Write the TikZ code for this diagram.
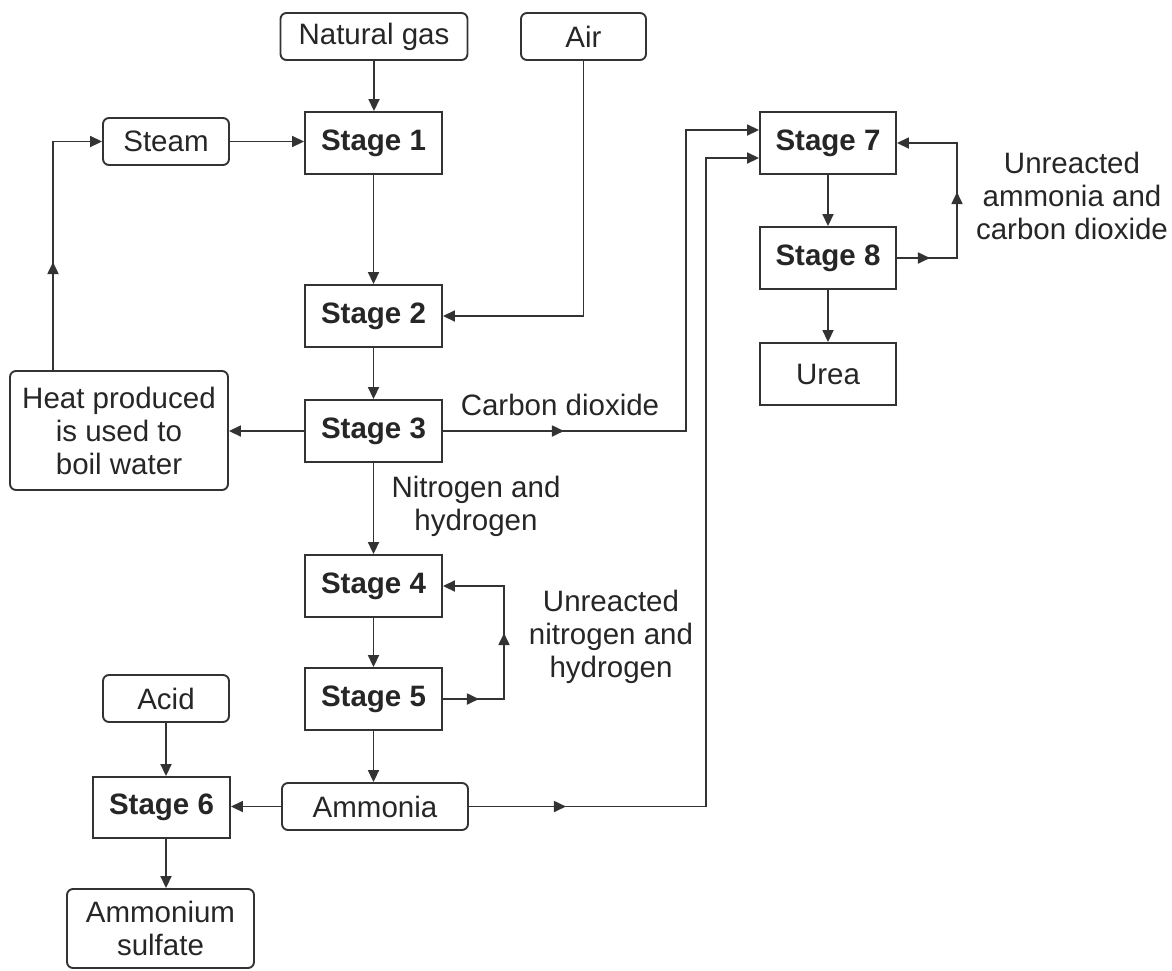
\documentclass[tikz,border=0pt]{standalone}
\usepackage{fontspec}
\setmainfont{Liberation Sans}
\usetikzlibrary{arrows.meta,decorations.markings,calc}
\begin{document}
\begin{tikzpicture}[x=1pt,y=-1pt,
  every node/.style={font=\fontsize{29.5}{33}\selectfont, text=black!85},
  base/.style={draw=black!80, line width=1.9pt, align=center, inner sep=0pt},
  stagebox/.style={base, minimum width=137pt, minimum height=62pt, font=\fontsize{29.5}{33}\selectfont\bfseries},
  roundbox/.style={base, rounded corners=6pt},
  flow/.style={draw=black!80, line width=1.8pt, -{Triangle[length=12pt,width=11pt]}},
  midarrow/.style={postaction={decorate, decoration={markings, mark=at position #1 with {\arrow{Triangle[length=12pt,width=11pt]}}}}},
  lab/.style={align=center, inner sep=0pt}
]
\useasboundingbox (0,0) rectangle (1172,970);

% boxes
\node[roundbox, minimum width=187pt, minimum height=47pt] (ng) at (374,36.5) {Natural gas};
\node[roundbox, minimum width=125pt, minimum height=47pt] (air) at (583.5,36.5) {Air};
\node[roundbox, minimum width=126pt, minimum height=47pt] (steam) at (166,141.5) {Steam};
\node[stagebox] (s1) at (373.5,143) {Stage 1};
\node[stagebox] (s2) at (373.5,316) {Stage 2};
\node[stagebox] (s3) at (373.5,431) {Stage 3};
\node[roundbox, minimum width=218pt, minimum height=119pt] (heat) at (119,430.5) {Heat produced\\is used to\\boil water};
\node[stagebox] (s4) at (373.5,586) {Stage 4};
\node[stagebox] (s5) at (373.5,699) {Stage 5};
\node[roundbox, minimum width=126pt, minimum height=47pt] (acid) at (166,698.5) {Acid};
\node[stagebox, minimum height=61pt] (s6) at (161.5,807.5) {Stage 6};
\node[roundbox, minimum width=186pt, minimum height=47pt] (ammonia) at (375,806.5) {Ammonia};
\node[roundbox, minimum width=187pt, minimum height=79pt] (amsulf) at (160.5,928.5) {Ammonium\\sulfate};
\node[stagebox, minimum width=136pt] (s7) at (828,143) {Stage 7};
\node[stagebox, minimum width=136pt] (s8) at (828,258) {Stage 8};
\node[base, minimum width=136pt, minimum height=62pt] (urea) at (828,374) {Urea};

% labels
\node[lab] (co2lab) at (560,405) {Carbon dioxide};
\node[lab] (nhlab) at (476,506) {Nitrogen and\\hydrogen};
\node[lab] (un1) at (611,637) {Unreacted\\nitrogen and\\hydrogen};
\node[lab] (un2) at (1072,196) {Unreacted\\ammonia and\\carbon dioxide};

% bend coordinates
\coordinate (co2x) at (686,0);
\coordinate (nh3x) at (706,0);
\coordinate (loop45) at (504,0);
\coordinate (loop78) at (957,0);

% connectors
\draw[flow] (ng.south) -- (ng.south |- s1.north);
\draw[flow] (steam.east) -- (steam.east -| s1.west);
\draw[flow] (air.south) |- (s2.east);
\draw[flow] (s1.south) -- (s2.north);
\draw[flow] (s2.south) -- (s3.north);
\draw[flow] (s3.west) -- (s3.west -| heat.east);
\draw[flow, midarrow=108pt] ([xshift=-66pt]heat.north) |- (steam.west);
\draw[flow, midarrow=121pt] (s3.east) -- (co2x |- s3.east) |- ([yshift=13pt]s7.west);
\draw[flow] (s3.south) -- (s4.north);
\draw[flow] (s4.south) -- (s5.north);
\draw[flow, midarrow=36pt, midarrow=127pt] (s5.east) -- (loop45 |- s5.east) |- (s4.east);
\draw[flow] (s5.south) -- (s5.south |- ammonia.north);
\draw[flow] (acid.south) -- (acid.south |- s6.north);
\draw[flow] (ammonia.west) -- (ammonia.west -| s6.east);
\draw[flow] (acid.south |- s6.south) -- (acid.south |- amsulf.north);
\draw[flow, midarrow=97pt] (ammonia.east) -- (nh3x |- ammonia.east) |- ([yshift=-15pt]s7.west);
\draw[flow] (s7.south) -- (s8.north);
\draw[flow] (s8.south) -- (urea.north);
\draw[flow, midarrow=33pt, midarrow=126pt] (s8.east) -- (loop78 |- s8.east) |- (s7.east);
\end{tikzpicture}
\end{document}
